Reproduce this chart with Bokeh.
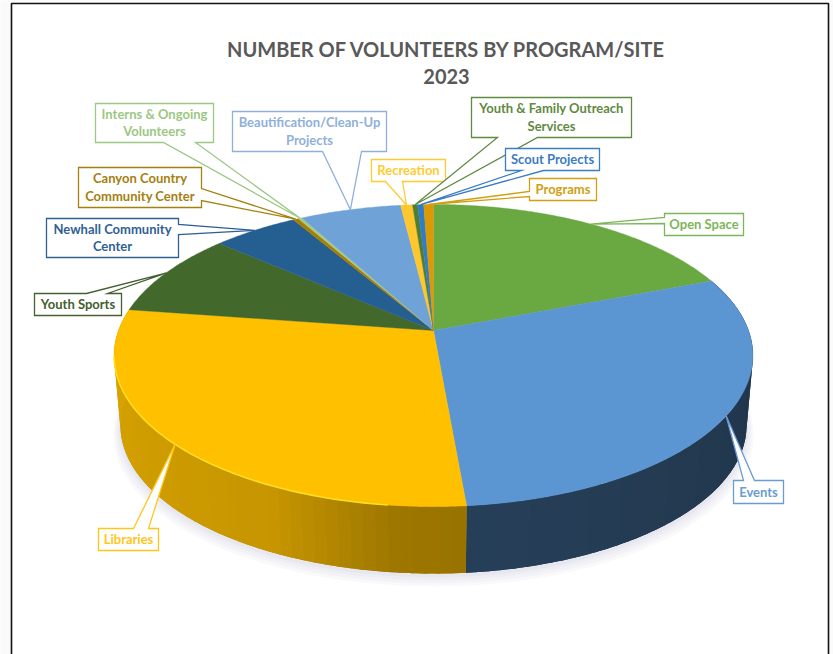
import numpy as np
from bokeh.plotting import figure
from bokeh.core.properties import value
from bokeh.embed import file_html
from bokeh.resources import INLINE

TITLE = ["NUMBER OF VOLUNTEERS BY PROGRAM/SITE", "2023"]
PROGRAMS = ["Open Space", "Events", "Libraries", "Youth Sports", "Newhall Community Center",
            "Canyon Country Community Center", "Interns & Ongoing Volunteers",
            "Beautification/Clean-Up Projects", "Recreation", "Youth & Family Outreach Services",
            "Scout Projects", "Programs"]
SHARES = [19.2, 29.4, 28.7, 9.1, 5.1, 0.33, 0.22, 6.0, 0.7, 0.3, 0.36, 0.58]
COLOURS = ["#6AA842", "#5B96D2", "#FFC000", "#43682B", "#255E91", "#A67E00", "#A5C98C",
           "#6FA3D8", "#FFC72E", "#4F7D33", "#2F7CC7", "#D99A06"]
TEXT_COLOURS = ["#7DB65A", "#6C9BD0", "#FFC61A", "#43602F", "#2F5F95", "#A5800F", "#9CC784",
                "#8FB0DC", "#FFCB33", "#5F8A42", "#3B7CC4", "#D0A010"]
LINES = [["Open Space"], ["Events"], ["Libraries"], ["Youth Sports"],
         ["Newhall Community", "Center"], ["Canyon Country", "Community Center"],
         ["Interns & Ongoing", "Volunteers"], ["Beautification/Clean-Up", "Projects"],
         ["Recreation"], ["Youth & Family Outreach", "Services"], ["Scout Projects"], ["Programs"]]
# label box: left, right, top, bottom; tail: side, from, to
BOXES = [(664, 743, 213, 235, "l", 217, 223), (733, 783, 480, 503, "t", 743, 754),
         (98, 158, 528, 550, "t", 133, 148), (34, 121, 293, 315, "t", 86, 107),
         (46, 178, 218, 257, "r", 224, 234), (78, 201, 167, 207, "r", 188, 200),
         (95, 213, 103, 142, "b", 163, 195), (232, 386, 111, 151, "b", 322, 361),
         (371, 445, 159, 181, "b", 385, 402), (471, 631, 97, 137, "b", 497, 537),
         (505, 599, 148, 170, "b", 521, 543), (529, 596, 178, 200, "l", 191, 196)]
# shade of the side wall along each wedge: fraction of the arc, colour factor
WALL_SHADE = {1: ([0, 1], [0.33, 0.42]), 2: ([0, 0.1, 0.3, 1], [0.6, 0.62, 0.78, 0.86])}

CX, CY, A, B, C = 433.0, 330.0, 315.0, 146.9, 0.1656
BOT_Y, BOT_S = 400.5, 0.98


def rim(theta_deg, cy=CY, s=1.0):
    t = np.radians(theta_deg)
    u, v = np.sin(t), np.cos(t)
    w = 1 + C * v
    return CX + s * A * u / w, cy - s * B * v / w


def mix(hex_col, f):
    rgb = [int(hex_col[i:i + 2], 16) for i in (1, 3, 5)]
    return "#%02x%02x%02x" % tuple(int(round(c * f)) for c in rgb)


p = figure(width=833, height=654, x_range=(0, 833), y_range=(654, 0), output_backend="svg",
           toolbar_location=None, min_border=0,
           background_fill_color="#FAFAFB", border_fill_color="#FAFAFB", outline_line_color=None)
p.axis.visible = False
p.grid.visible = False

# picture frame
p.quad(left=[11], right=[828], top=[3], bottom=[660], fill_color="white",
       line_color="#111111", line_width=1.6)

# angles from the values
total = sum(SHARES)
edges = np.concatenate([[0], np.cumsum(SHARES)]) / total * 360
all_t = np.linspace(0, 360, 361)

# soft shadow
for grow, dy in [(7, 9), (5, 7), (3, 5), (1.5, 3)]:
    x, y = rim(all_t, BOT_Y + dy, BOT_S + grow / 320)
    p.patch(x, y, fill_color="#8C8FA8", fill_alpha=0.05, line_color=None)

# side walls
for i, (fracs, shades) in WALL_SHADE.items():
    a0, a1 = edges[i], edges[i + 1]
    seg = np.linspace(a0, a1, 120)
    xt, yt = rim(seg)
    xb, yb = rim(seg[::-1], BOT_Y, BOT_S)
    p.patch(np.concatenate([xt, xb]), np.concatenate([yt, yb]),
            fill_color=mix(COLOURS[i], float(np.mean(shades))), line_color=None)
    n = int((a1 - a0) / 2) + 1
    ts = np.linspace(a0, a1, n + 1)
    xs, ys, cols = [], [], []
    for k in range(n):
        seg = np.linspace(ts[k], ts[k + 1] + (0.6 if k < n - 1 else 0), 4)
        xt, yt = rim(seg)
        xb, yb = rim(seg[::-1], BOT_Y, BOT_S)
        xs.append(np.concatenate([xt, xb]).tolist())
        ys.append(np.concatenate([yt, yb]).tolist())
        cols.append(mix(COLOURS[i], float(np.interp(k / max(n - 1, 1), fracs, shades))))
    p.patches(xs, ys, fill_color=cols, line_color=None)

# top faces
xs, ys = [], []
for a0, a1 in zip(edges[:-1], edges[1:]):
    seg = np.linspace(a0, a1, max(int(a1 - a0) * 2, 3))
    x, y = rim(seg)
    xs.append([CX] + x.tolist())
    ys.append([CY] + y.tolist())
p.patches(xs, ys, fill_color=COLOURS, line_color=COLOURS, line_width=0.4)

# bright rim on the Libraries wedge
seg = np.linspace(edges[2] + 12, edges[3] - 18, 80)
x, y = rim(seg)
p.line(x, y, line_color="#FFDD22", line_width=1.6)

# callouts
for i, (l, r, t, b, side, t0, t1) in enumerate(BOXES):
    tip_x, tip_y = rim((edges[i] + edges[i + 1]) / 2)
    px, py = [l], [t]
    if side == "t":
        px += [t0, float(tip_x), t1]; py += [t, float(tip_y), t]
    px.append(r); py.append(t)
    if side == "r":
        px += [r, float(tip_x), r]; py += [t0, float(tip_y), t1]
    px.append(r); py.append(b)
    if side == "b":
        px += [t1, float(tip_x), t0]; py += [b, float(tip_y), b]
    px.append(l); py.append(b)
    if side == "l":
        px += [l, float(tip_x), l]; py += [t1, float(tip_y), t0]
    p.patch(px, py, fill_color="white", line_color=TEXT_COLOURS[i], line_width=1.3, line_join="miter")
    lines = LINES[i]
    mid = (t + b) / 2
    for j, txt in enumerate(lines):
        p.text([(l + r) / 2], [mid + (j - (len(lines) - 1) / 2) * 17.5 - 0.5], text=[txt],
               text_color=TEXT_COLOURS[i], text_font=value("Lato"), text_font_style="bold",
               text_font_size="13px", text_align="center", text_baseline="middle")

# title
for txt, yy in zip(TITLE, (48, 76)):
    p.text([446], [yy], text=[txt], text_color="#595959", text_font=value("Lato"),
           text_font_style="bold", text_font_size="20px", text_align="center",
           text_baseline="middle")

open("out.html", "w").write(file_html(p, INLINE))
